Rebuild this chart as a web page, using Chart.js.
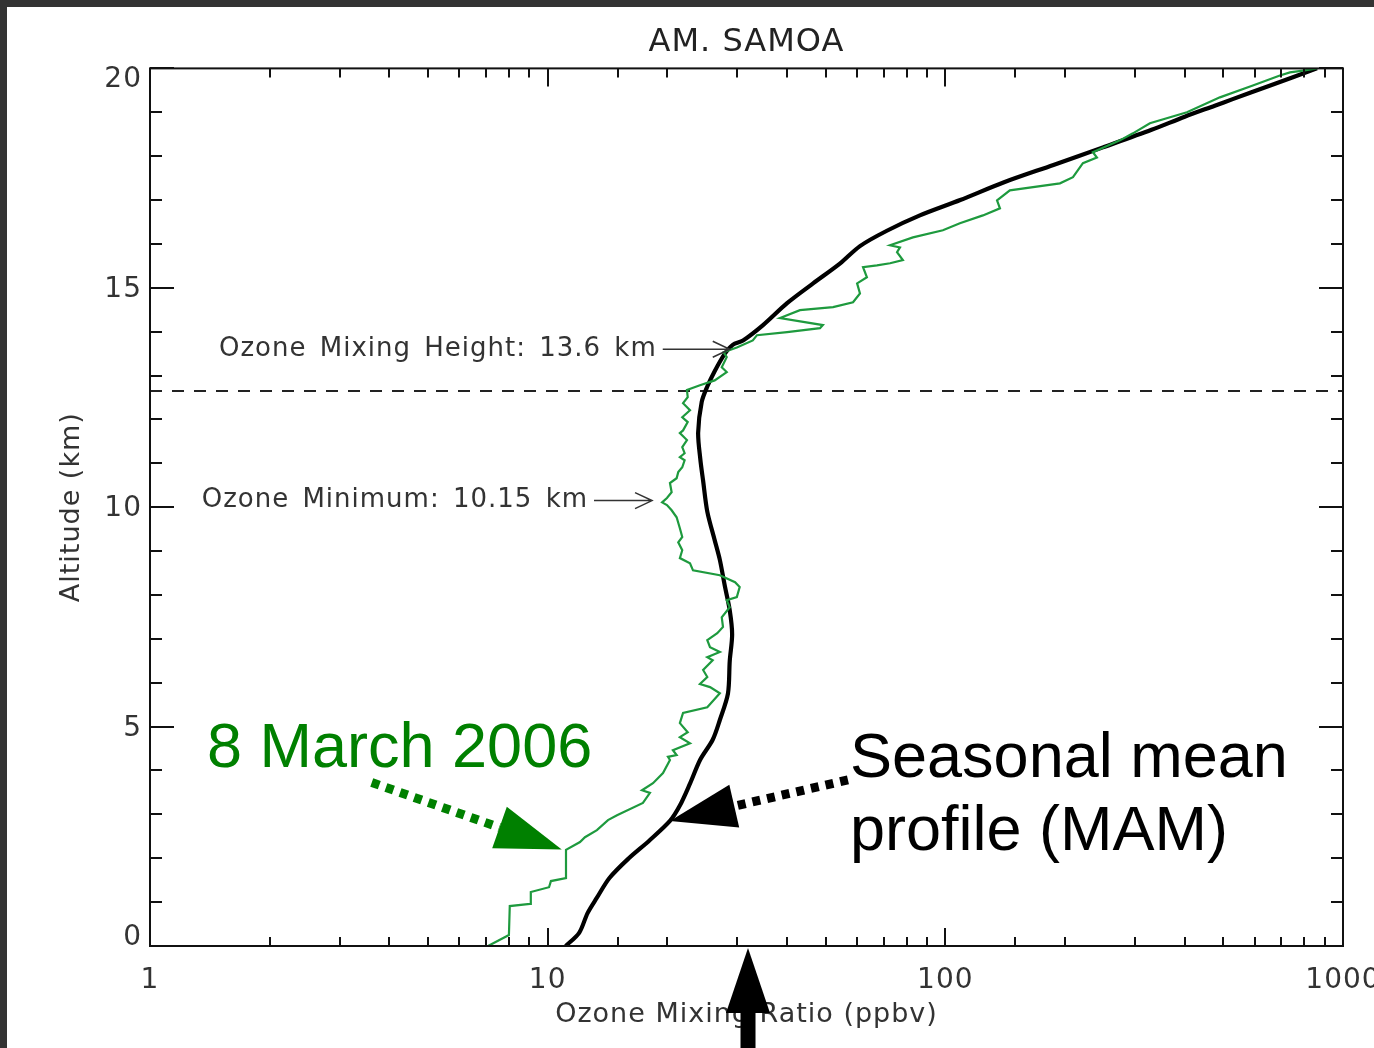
<!DOCTYPE html>
<html lang="en">
<head>
    <meta charset="UTF-8">
    <title>AM. SAMOA - Ozone profile</title>
    <script src="https://cdn.jsdelivr.net/npm/chart.js"></script>
    <style>
        body {
            margin: 0;
            background: #333333;
            overflow: hidden;
        }
        #profile {
            position: absolute;
            left: 7px;
            top: 7px;
            background: #fff;
        }
    </style>
</head>
<body>

    <canvas id="profile" width="1367" height="1041"></canvas>

    <script>
        // Seasonal mean profile (MAM): altitude (km) and ozone (ppbv)
        const meanAlt = [0.0, 0.3, 0.75, 1.1, 1.55, 2.0, 2.4, 2.85, 3.2, 3.7, 4.25, 4.7, 5.15, 5.75, 6.5, 7.1, 7.65,
            8.2, 8.8, 9.25, 9.9, 10.6, 11.1, 11.7, 12.4, 12.75, 13.1, 13.5, 13.7, 13.8, 14.15, 14.65, 15.1, 15.55,
            15.95, 16.3, 16.65, 17.0, 17.4, 17.8, 18.2, 18.6, 18.9, 19.15, 19.3, 19.6, 20.0];
        const meanO3 = [11.1, 12.0, 12.6, 13.3, 14.3, 16.0, 18.0, 20.3, 21.5, 22.8, 24.2, 26.0, 27.1, 28.4, 28.7, 29.1, 28.7,
            27.9, 27.1, 26.3, 25.2, 24.6, 24.2, 23.9, 24.4, 25.2, 26.3, 27.9, 29.2, 31.0, 34.8, 40.0, 46.5, 54.3,
            61.0, 71.3, 86.3, 109, 140, 187, 249, 330, 400, 476, 528, 651, 860];

        // 8 March 2006 sounding
        const marchAlt = [0.0, 0.25, 0.91, 0.96, 1.23, 1.34, 1.48, 1.55, 2.19, 2.37, 2.48, 2.64, 2.87, 2.98, 3.26, 3.49,
            3.55, 3.71, 3.94, 4.24, 4.31, 4.35, 4.46, 4.62, 4.76, 4.87, 5.08, 5.31, 5.44, 5.76, 5.9, 5.97, 6.13, 6.29,
            6.51, 6.58, 6.7, 6.81, 6.97, 7.13, 7.27, 7.49, 7.72, 7.88, 7.95, 8.18, 8.29, 8.45, 8.56, 8.72, 8.84, 9.02,
            9.2, 9.32, 9.52, 9.77, 9.93, 10.05, 10.11, 10.21, 10.34, 10.55, 10.66, 10.8, 10.91, 11.07, 11.14, 11.23,
            11.37, 11.53, 11.69, 11.75, 11.94, 12.05, 12.21, 12.37, 12.51, 12.67, 12.78, 12.89, 13.08, 13.19, 13.42,
            13.53, 13.64, 13.8, 13.92, 13.99, 14.08, 14.15, 14.31, 14.49, 14.56, 14.67, 14.87, 15.1, 15.24, 15.47,
            15.51, 15.56, 15.63, 15.81, 15.92, 15.97, 16.15, 16.31, 16.47, 16.65, 16.81, 16.99, 17.22, 17.38, 17.52,
            17.84, 17.97, 18.09, 18.36, 18.52, 18.75, 19.0, 19.34, 19.61, 19.84, 19.91, 19.95, 20.0];
        const marchO3 = [7.08, 7.99, 8.03, 9.03, 9.07, 10.08, 10.19, 11.12, 11.12, 12.06, 12.41, 13.3, 14.18, 14.94, 17.36, 18.08,
            17.27, 18.4, 19.5, 20.3, 20.07, 21.1, 20.65, 22.8, 21.5, 22.5, 21.5, 21.9, 25.2, 27.1, 25.6, 24.15, 25.2, 24.6,
            26.0, 25.2, 27.1, 25.6, 25.2, 26.7, 27.6, 27.4, 28.7, 28.2, 29.9, 30.4, 29.6, 27.1, 23.2, 22.8, 21.5, 21.8,
            21.3, 21.8, 21.5, 21.1, 20.5, 19.95, 19.4, 19.95, 20.5, 20.3, 21.1, 21.3, 21.8, 22.1, 21.5, 22.1,
            21.8, 22.4, 21.5, 21.9, 22.5, 21.8, 22.8, 21.9, 22.5, 22.4, 24.15, 26.3, 28.2, 27.4, 28.2,
            27.7, 29.9, 32.8, 33.6, 40.0, 48.4, 49.2, 38.4, 43.1, 52.2, 58.6, 61.0, 60.0, 63.5, 62.1,
            67.3, 72.6, 78.2, 75.6, 76.9, 72.6, 82.9, 98.6, 108.8, 124.3, 137.2, 134.9, 145.3, 194.2, 209.4,
            221.8, 240.5, 235.0, 274.8, 296.3, 326.9, 405.1, 490.3, 593.3, 693.9, 735.6, 793, 860];

        // dashed reference level (km)
        const dashedLevelKm = 12.65;

        const xLabels = [1, 10, 100, 1000];
        const yLabels = [0, 5, 10, 15, 20];

        const pointerNotes = [
            { text: 'Ozone Mixing Height: 13.6 km', o3: 28.7, km: 13.6, len: 67 },
            { text: 'Ozone Minimum: 10.15 km', o3: 18.3, km: 10.15, len: 58 }
        ];

        const toPoints = (alt, o3) => alt.map((a, i) => ({ x: o3[i], y: a }));
        const isDecade = v => Math.abs(Math.log10(v) - Math.round(Math.log10(v))) < 1e-6;

        // IDL-like spacing for the axis text
        const idlText = {
            id: 'idlText',
            beforeDraw(chart) {
                chart.ctx.letterSpacing = '1px';
            }
        };

        // closed frame with inward ticks on all four sides, plus altitude labels
        const frame = {
            id: 'frame',
            afterDatasetsDraw(chart) {
                const { ctx, chartArea: a, scales: { x, y } } = chart;
                ctx.save();
                ctx.strokeStyle = '#111';
                ctx.lineWidth = 2;
                ctx.strokeRect(a.left, a.top, a.right - a.left, a.bottom - a.top);
                ctx.beginPath();
                x.ticks.forEach(t => {
                    const px = Math.round(x.getPixelForValue(t.value));
                    const len = isDecade(t.value) ? 18 : 9;
                    ctx.moveTo(px, a.bottom); ctx.lineTo(px, a.bottom - len);
                    ctx.moveTo(px, a.top); ctx.lineTo(px, a.top + len);
                });
                y.ticks.forEach(t => {
                    const py = Math.round(y.getPixelForValue(t.value));
                    const len = yLabels.includes(t.value) ? 24 : 12;
                    ctx.moveTo(a.left, py); ctx.lineTo(a.left + len, py);
                    ctx.moveTo(a.right, py); ctx.lineTo(a.right - len, py);
                });
                ctx.stroke();

                // end labels are kept inside the axis range
                ctx.font = '28px "DejaVu Sans"';
                ctx.letterSpacing = '1px';
                ctx.fillStyle = '#333';
                ctx.textAlign = 'right';
                ctx.textBaseline = 'middle';
                yLabels.forEach(v => {
                    const py = Math.min(Math.max(y.getPixelForValue(v) + 2, a.top + 11), a.bottom - 8);
                    ctx.fillText(String(v), a.left - 8, py);
                });
                ctx.restore();
            }
        };

        function fatArrow(ctx, sx, sy, tx, ty, color) {
            const ang = Math.atan2(ty - sy, tx - sx);
            const headLen = 66, half = 22;
            const bx = tx - headLen * Math.cos(ang), by = ty - headLen * Math.sin(ang);
            ctx.strokeStyle = color;
            ctx.lineWidth = 9;
            ctx.lineCap = 'butt';
            ctx.setLineDash([8, 7]);
            ctx.beginPath();
            ctx.moveTo(sx, sy);
            ctx.lineTo(bx, by);
            ctx.stroke();
            ctx.setLineDash([]);
            ctx.fillStyle = color;
            ctx.beginPath();
            ctx.moveTo(tx, ty);
            ctx.lineTo(bx + half * Math.sin(ang), by - half * Math.cos(ang));
            ctx.lineTo(bx - half * Math.sin(ang), by + half * Math.cos(ang));
            ctx.closePath();
            ctx.fill();
        }

        const notes = {
            id: 'notes',
            afterDraw(chart) {
                const { ctx, scales: { x, y } } = chart;
                ctx.save();

                // small labels with open arrows
                ctx.font = '26px "DejaVu Sans"';
                ctx.letterSpacing = '1px';
                ctx.wordSpacing = '4px';
                ctx.fillStyle = '#333';
                ctx.strokeStyle = '#333';
                ctx.lineWidth = 1.5;
                ctx.textAlign = 'right';
                ctx.textBaseline = 'middle';
                pointerNotes.forEach(n => {
                    const tx = x.getPixelForValue(n.o3), ty = y.getPixelForValue(n.km);
                    const sx = tx - n.len;
                    ctx.beginPath();
                    ctx.moveTo(sx, ty); ctx.lineTo(tx, ty);
                    ctx.moveTo(tx - 17, ty - 8); ctx.lineTo(tx, ty); ctx.lineTo(tx - 17, ty + 8);
                    ctx.stroke();
                    ctx.fillText(n.text, sx - 6, ty);
                });

                // big callouts
                ctx.letterSpacing = '0px';
                ctx.wordSpacing = '0px';
                ctx.textAlign = 'left';
                ctx.textBaseline = 'alphabetic';
                ctx.font = '63px "Liberation Sans"';
                ctx.fillStyle = '#008000';
                ctx.fillText('8 March 2006', 200, 760);
                ctx.fillStyle = '#000';
                ctx.fillText('Seasonal mean', 843, 770);
                ctx.fillText('profile (MAM)', 843, 843);

                const g = { x: x.getPixelForValue(10.85), y: y.getPixelForValue(2.2) };
                fatArrow(ctx, g.x - 190, g.y - 67, g.x, g.y, '#008000');

                const b = { x: x.getPixelForValue(20.3), y: y.getPixelForValue(2.85) };
                fatArrow(ctx, b.x + 178, b.y - 41, b.x, b.y, '#000');

                // upward arrow under the x axis
                const ux = x.getPixelForValue(31.9), uy = y.getPixelForValue(0) + 2;
                ctx.fillStyle = '#000';
                ctx.beginPath();
                ctx.moveTo(ux, uy);
                ctx.lineTo(ux + 22, uy + 65);
                ctx.lineTo(ux - 22, uy + 65);
                ctx.closePath();
                ctx.fill();
                ctx.fillRect(ux - 7.5, uy + 64, 15, chart.height - uy);

                ctx.restore();
            }
        };

        Chart.defaults.font.family = '"DejaVu Sans"';
        Chart.defaults.color = '#333';

        const ctx = document.getElementById('profile').getContext('2d');
        new Chart(ctx, {
            type: 'scatter',
            data: {
                datasets: [
                    {
                        label: '8 March 2006',
                        data: toPoints(marchAlt, marchO3),
                        showLine: true,
                        borderColor: '#1e9a3e',
                        borderWidth: 2.2,
                        pointRadius: 0
                    },
                    {
                        label: 'Seasonal mean profile (MAM)',
                        data: toPoints(meanAlt, meanO3),
                        showLine: true,
                        tension: 0.3,
                        borderColor: '#000',
                        borderWidth: 4.2,
                        pointRadius: 0
                    },
                    {
                        label: 'level',
                        data: [{ x: 1, y: dashedLevelKm }, { x: 1000, y: dashedLevelKm }],
                        showLine: true,
                        borderColor: '#222',
                        borderWidth: 2,
                        borderDash: [12, 10],
                        pointRadius: 0
                    }
                ]
            },
            options: {
                responsive: false,
                animation: false,
                layout: { padding: { top: 0, left: 0, right: 31, bottom: 0 } },
                plugins: {
                    legend: { display: false },
                    tooltip: { enabled: false },
                    title: {
                        display: true,
                        fullSize: false,
                        text: 'AM. SAMOA',
                        color: '#222',
                        font: { size: 32, weight: 'normal' },
                        padding: { top: 16, bottom: 7 }
                    }
                },
                scales: {
                    x: {
                        type: 'logarithmic',
                        min: 1,
                        max: 1000,
                        grid: { display: false },
                        border: { display: false },
                        ticks: {
                            autoSkip: false,
                            maxRotation: 0,
                            padding: 10,
                            font: { size: 28 },
                            callback: v => xLabels.includes(v) ? String(v) : ''
                        },
                        title: {
                            display: true,
                            text: 'Ozone Mixing Ratio (ppbv)',
                            font: { size: 27 },
                            padding: { top: 0, bottom: 17 }
                        },
                        afterFit(s) {
                            s.height = 102;
                            s.paddingLeft = 0;
                            s.paddingRight = 0;
                        }
                    },
                    y: {
                        min: 0,
                        max: 20,
                        grid: { display: false },
                        border: { display: false },
                        ticks: {
                            stepSize: 1,
                            autoSkip: false,
                            display: false
                        },
                        title: {
                            display: true,
                            text: 'Altitude (km)',
                            font: { size: 27 },
                            padding: { top: 49, bottom: 0 }
                        },
                        afterFit(s) {
                            s.width = 143;
                        }
                    }
                }
            },
            plugins: [idlText, frame, notes]
        });
    </script>
</body>
</html>
